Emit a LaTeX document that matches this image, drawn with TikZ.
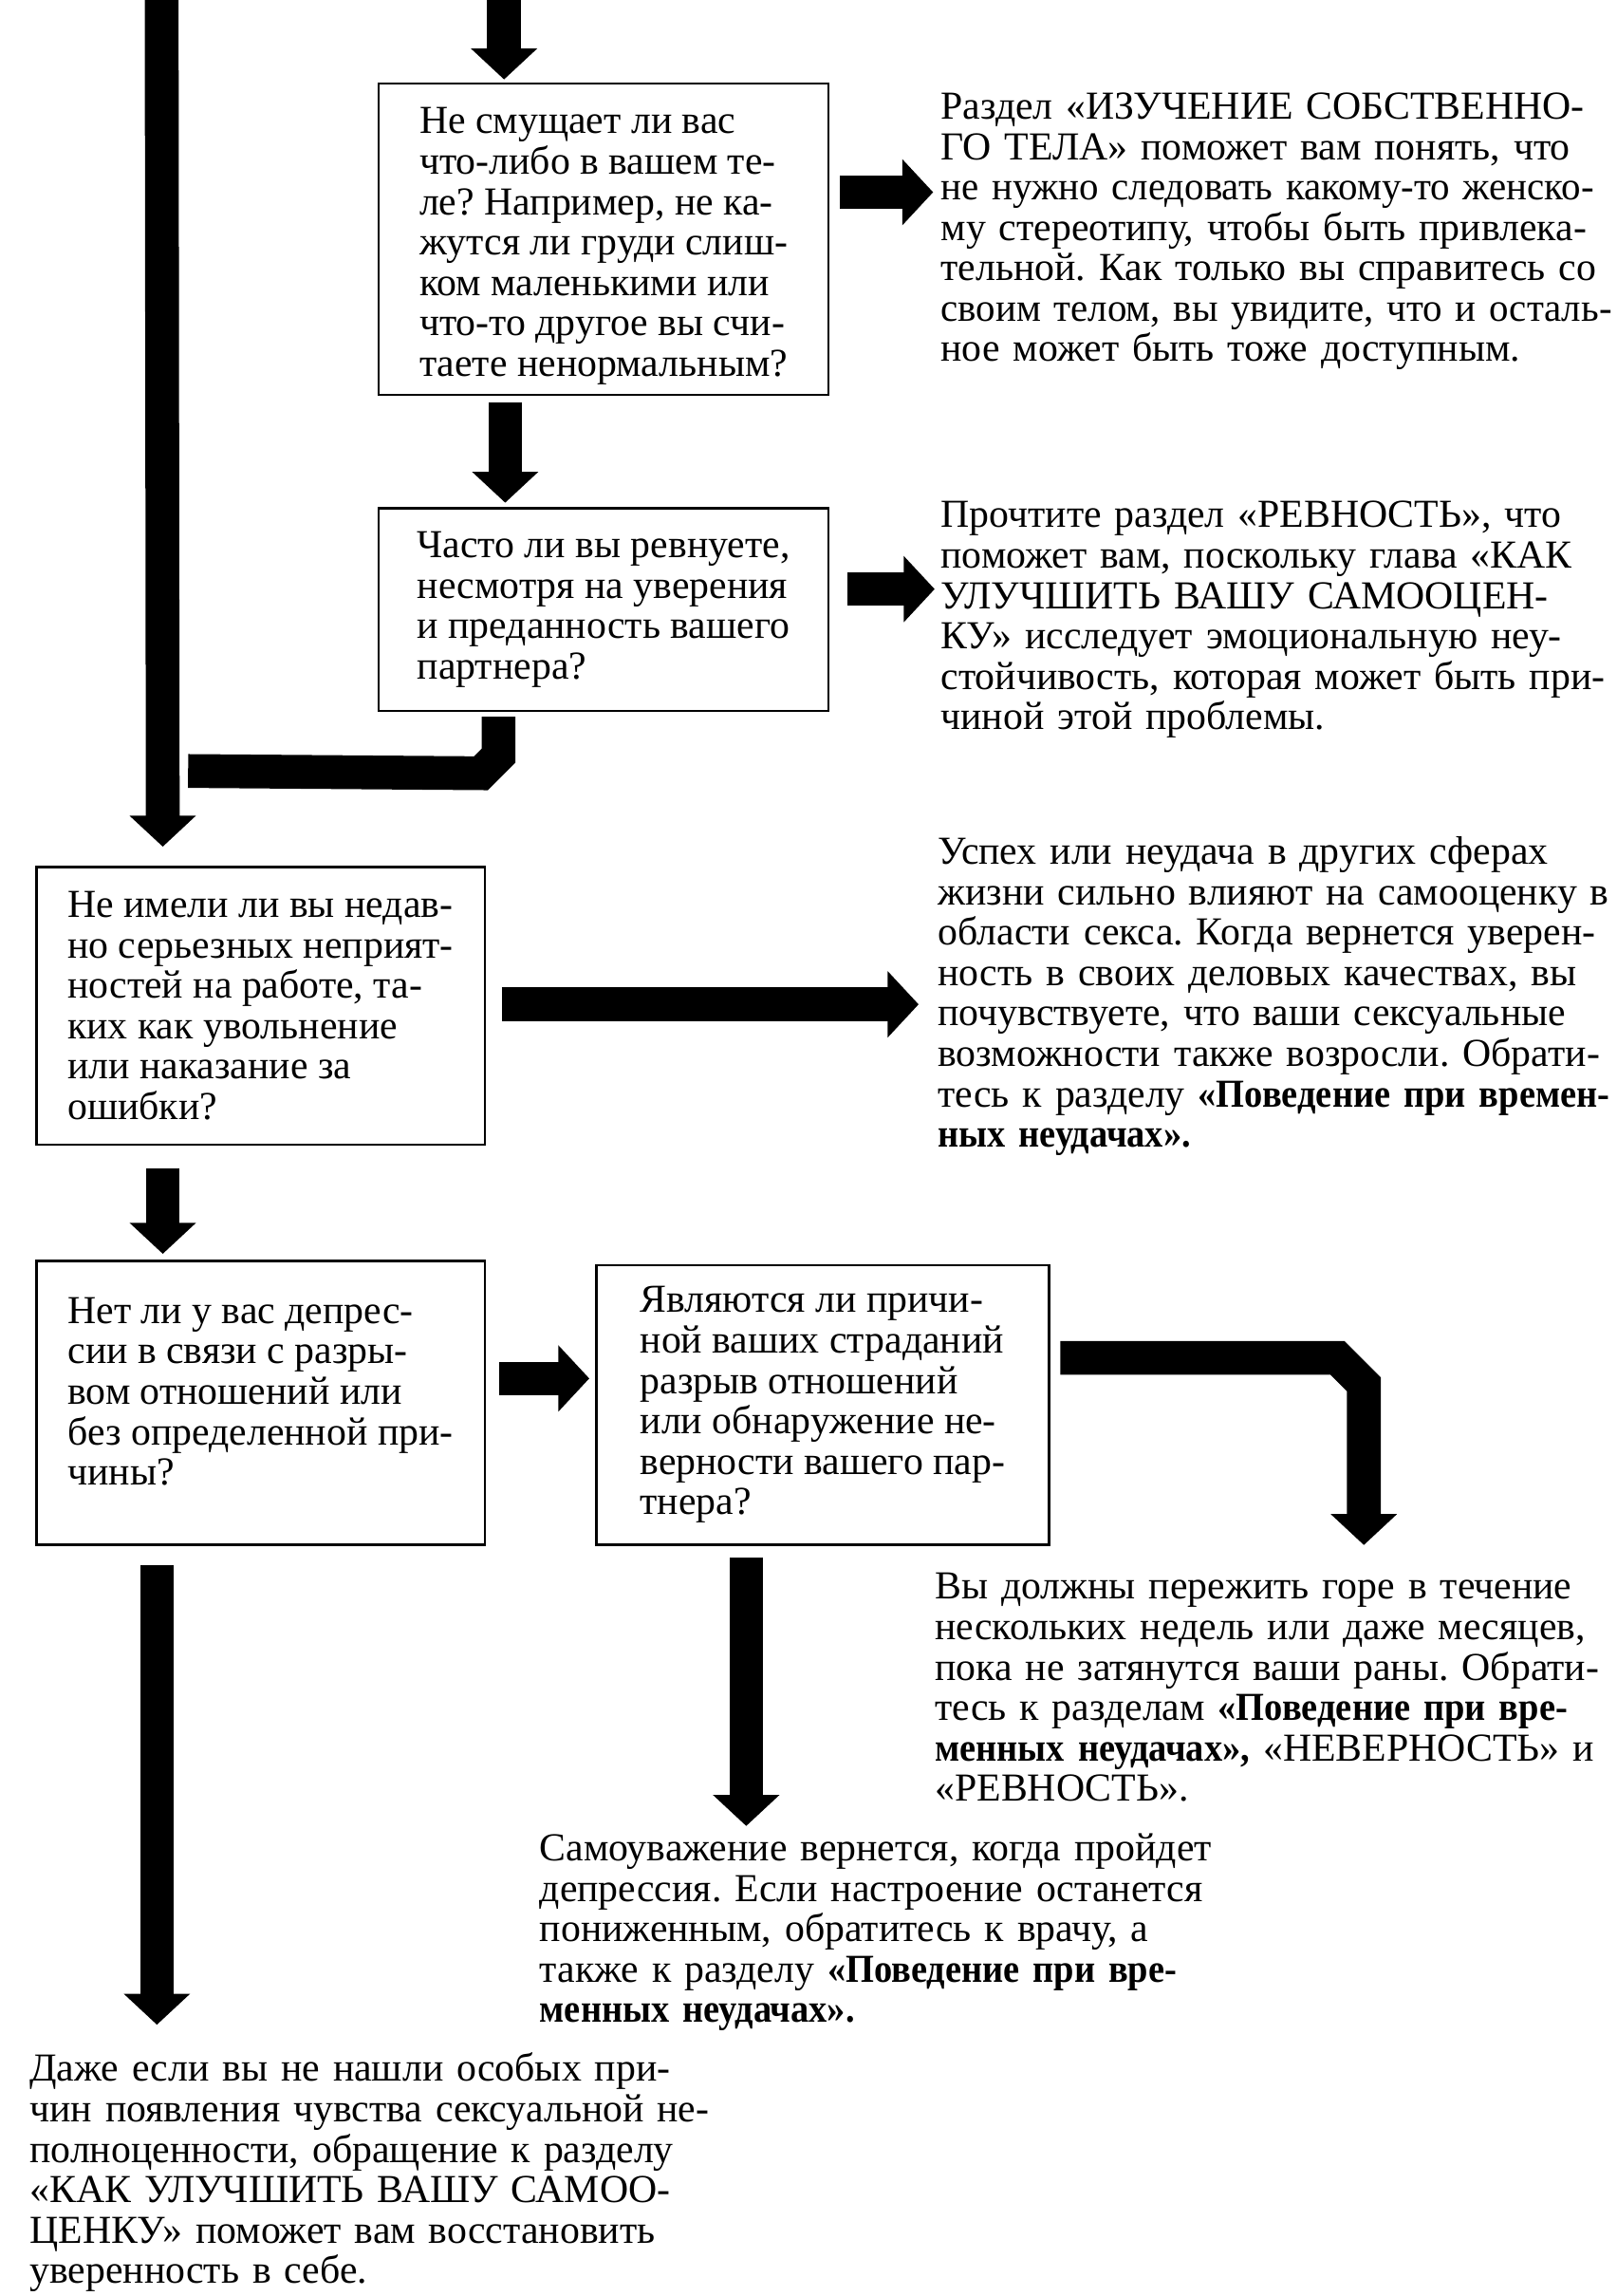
\documentclass[tikz,border=0pt]{standalone}
\usepackage{fontspec}
\usepackage{graphicx}
\setmainfont[BoldFeatures={FakeStretch=0.92}]{Liberation Serif}
\usetikzlibrary{arrows.meta,positioning}
\newdimen\dpx \dpx=0.7745pt
\newcommand{\squeeze}[1]{\scalebox{0.98}[1]{#1}}
\frenchspacing

\tikzset{
  qbox/.style={draw,line width=1.2pt,align=left,inner sep=0pt,anchor=north west},
  answer/.style={anchor=base west,inner sep=0pt,text width=400pt,align=left},
  fat/.style={line width=17.8pt,line join=miter},
  fatarrow/.style={fat,-{Triangle[length=16.3pt,width=34pt]}}
}

\begin{document}
\begin{tikzpicture}[x=\dpx,y=-\dpx,font=\fontsize{20.9}{21.3}\selectfont]
  \useasboundingbox[fill=white] (0,0) rectangle (1100,1562);

  \node[qbox,minimum width=306\dpx,minimum height=212\dpx] (q_body) at (257,56)
    {\rule{0pt}{21pt}Не смущает ли вас\\что-либо в вашем те-\\ле? Например, не ка-\\жутся ли груди слиш-\\ком маленькими или\\что-то другое вы счи-\\таете ненормальным?};
  \node[qbox,minimum width=306\dpx,minimum height=138\dpx] (q_jeal) at (257,345)
    {Часто ли вы ревнуете,\\несмотря на уверения\\и преданность вашего\\партнера?};
  \node[qbox,minimum width=305\dpx,minimum height=189\dpx] (q_work) at (24,589)
    {Не имели ли вы недав-\\но серьезных неприят-\\ностей на работе, та-\\ких как увольнение\\или наказание за\\ошибки?};
  \node[qbox,minimum width=305\dpx,minimum height=193\dpx] (q_depr) at (24,857)
    {Нет ли у вас депрес-\\сии в связи с разры-\\вом отношений или\\без определенной при-\\чины?\rule[-12pt]{0pt}{0pt}};
  \node[qbox,minimum width=308\dpx,minimum height=190\dpx] (q_break) at (405,860)
    {Являются ли причи-\\ной ваших страданий\\разрыв отношений\\или обнаружение не-\\верности вашего пар-\\тнера?};

  \node[answer] (a_body) at (640,81)
    {Раздел «ИЗУЧЕНИЕ СОБСТВЕННО-\\ГО ТЕЛА» поможет вам понять, что\\\squeeze{не нужно следовать какому-то женско-}\\му стереотипу, чтобы быть привлека-\\тельной. Как только вы справитесь со\\\squeeze{своим телом, вы увидите, что и осталь-}\\ное может быть тоже доступным.};
  \node[answer] (a_jeal) at (640,359)
    {Прочтите раздел «РЕВНОСТЬ», что\\поможет вам, поскольку глава «КАК\\УЛУЧШИТЬ ВАШУ САМООЦЕН-\\КУ» исследует эмоциональную неу-\\стойчивость, которая может быть при-\\чиной этой проблемы.};
  \node[answer] (a_work) at (638,588)
    {Успех или неудача в других сферах\\жизни сильно влияют на самооценку в\\области секса. Когда вернется уверен-\\ность в своих деловых качествах, вы\\почувствуете, что ваши сексуальные\\возможности также возросли. Обрати-\\тесь к разделу \textbf{«Поведение при времен-}\\\textbf{ных неудачах».}};
  \node[answer] (a_break) at (636,1088)
    {Вы должны пережить горе в течение\\нескольких недель или даже месяцев,\\пока не затянутся ваши раны. Обрати-\\тесь к разделам \textbf{«Поведение при вре-}\\\textbf{менных неудачах»,} «НЕВЕРНОСТЬ» и\\«РЕВНОСТЬ».};
  \node[answer] (a_depr) at (367,1266)
    {Самоуважение вернется, когда пройдет\\депрессия. Если настроение останется\\пониженным, обратитесь к врачу, а\\также к разделу \textbf{«Поведение при вре-}\\\textbf{менных неудачах».}};
  \node[answer] (a_none) at (20,1416)
    {Даже если вы не нашли особых при-\\чин появления чувства сексуальной не-\\полноценности, обращение к разделу\\«КАК УЛУЧШИТЬ ВАШУ САМОО-\\ЦЕНКУ» поможет вам восстановить\\уверенность в себе.};

  \coordinate (bar_top) at (110,0);
  \coordinate (in_body) at (343,0);
  \coordinate (join) at ([shift={(18,524.5)}]bar_top);

  \draw[fatarrow,shorten >=1.5pt] (in_body) -- (in_body |- q_body.north);
  \draw[fatarrow] ([shift={(-67,4)}]q_body.south) -- ([shift={(-67,-3)}]q_jeal.north);
  \draw[fatarrow,shorten >=3.9pt] ([shift={(7,-32)}]q_body.east) coordinate (s_body) -- (s_body -| a_body.west);
  \draw[fatarrow,shorten >=3.1pt] ([shift={(12,-14)}]q_jeal.east) coordinate (s_jeal) -- (s_jeal -| a_jeal.west);
  \draw[fat] ([shift={(-71.5,3)}]q_jeal.south) -- ++(0,26.5) -- ++(-12,12) -- (join);
  \draw[fatarrow] (bar_top) -- ([shift={(-66.5,-13)}]q_work.north);
  \draw[fatarrow,shorten >=10pt] ([shift={(11,-1)}]q_work.east) coordinate (s_work) -- (s_work -| a_work.west);
  \draw[fatarrow] ([shift={(-66.5,15)}]q_work.south) -- ([shift={(-66.5,-4)}]q_depr.north);
  \draw[fatarrow,shorten >=3.1pt] ([shift={(9,-16.5)}]q_depr.east) coordinate (s_depr) -- (s_depr -| q_break.west);
  \draw[fatarrow,shorten >=14.7pt] ([shift={(-70.5,13)}]q_depr.south) coordinate (s_none) -- (s_none |- a_none.north);
  \draw[fatarrow,shorten >=3.9pt] ([shift={(-52,8)}]q_break.south) coordinate (s_down) -- (s_down |- a_depr.north);
  \draw[fatarrow,shorten >=14.7pt] ([shift={(7,-32)}]q_break.east) -- ++(188.5,0) -- ++(18,18) coordinate (b_turn) -- (b_turn |- a_break.north);
\end{tikzpicture}
\end{document}
